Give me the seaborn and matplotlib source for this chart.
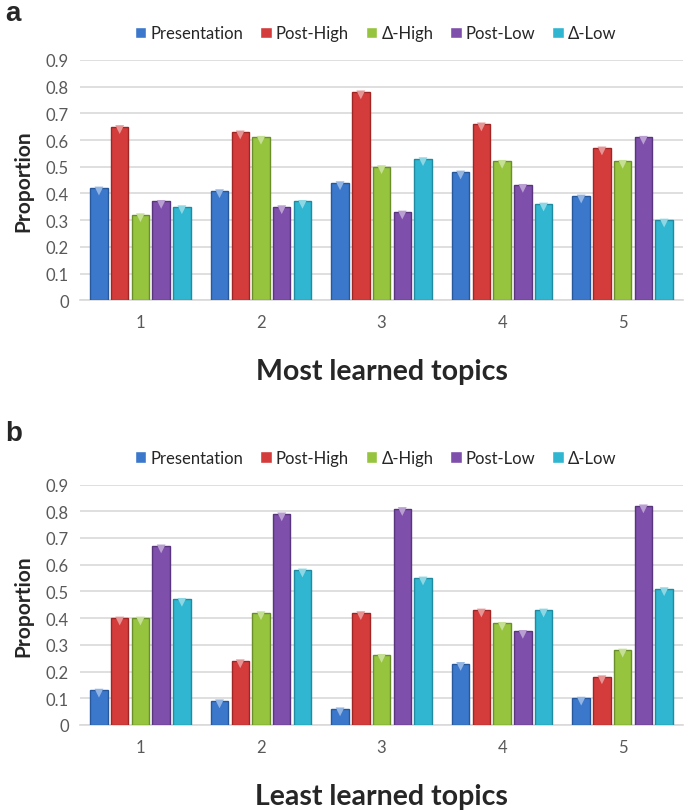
"""grouped bar charts: most / least learned topics"""

import pandas as pd
import matplotlib
matplotlib.use("Agg")
import matplotlib.pyplot as plt
import matplotlib.colors as mcolors
import seaborn as sns

topics = ["1", "2", "3", "4", "5"]
series = ["Presentation", "Post-High", "Δ-High", "Post-Low", "Δ-Low"]

# most learned topics (panel a)
most_presentation = [0.42, 0.41, 0.44, 0.48, 0.39]
most_post_high = [0.65, 0.63, 0.78, 0.66, 0.57]
most_delta_high = [0.32, 0.61, 0.50, 0.52, 0.52]
most_post_low = [0.37, 0.35, 0.33, 0.43, 0.61]
most_delta_low = [0.35, 0.37, 0.53, 0.36, 0.30]

# least learned topics (panel b)
least_presentation = [0.13, 0.09, 0.06, 0.23, 0.10]
least_post_high = [0.40, 0.24, 0.42, 0.43, 0.18]
least_delta_high = [0.40, 0.42, 0.26, 0.38, 0.28]
least_post_low = [0.67, 0.79, 0.81, 0.35, 0.82]
least_delta_low = [0.47, 0.58, 0.55, 0.43, 0.51]

colours = ["#3b78cc", "#d43c3c", "#96c43e", "#7e4fab", "#30b6d0"]
edges = ["#28589c", "#a02626", "#6a8f2a", "#58357c", "#1f8aa0"]


def long_table(values):
    rows = []
    for name, vals in zip(series, values):
        for t, v in zip(topics, vals):
            rows.append({"topic": t, "series": name, "value": v})
    return pd.DataFrame(rows)


def lighter(c, f=0.45):
    r, g, b = mcolors.to_rgb(c)
    return (r + (1 - r) * f, g + (1 - g) * f, b + (1 - b) * f)


def draw_panel(fig, rect, df, xlabel, letter, letter_y):
    ax = fig.add_axes(rect)
    sns.barplot(data=df, x="topic", y="value", hue="series", hue_order=series,
                palette=colours, saturation=1, width=0.86, gap=0.16, ax=ax,
                zorder=3, linewidth=1.0, legend=True)
    xlim = ax.get_xlim()
    # darker outline and a light bevel at the top of each bar
    for cont, ec, fc in zip(ax.containers, edges, colours):
        for bar in cont:
            bar.set_edgecolor(ec)
            xc = bar.get_x() + bar.get_width() / 2
            ax.scatter(xc, bar.get_height() - 0.011, marker="v", s=40,
                       color=lighter(fc), edgecolor="none", zorder=4)
    ax.set_xlim(xlim)

    ax.set_ylim(0, 0.9)
    ax.set_yticks([i / 10 for i in range(10)])
    ax.set_yticklabels(["0"] + ["0." + str(i) for i in range(1, 10)])
    ax.yaxis.grid(True, color="#d9d9d9", linewidth=1.2, zorder=0)
    ax.xaxis.grid(False)
    for s in ["left", "right", "top"]:
        ax.spines[s].set_visible(False)
    ax.spines["bottom"].set_color("#d9d9d9")
    ax.spines["bottom"].set_linewidth(1.2)
    ax.tick_params(axis="both", length=0, colors="#595959", labelsize=12)
    ax.tick_params(axis="y", pad=8)
    ax.tick_params(axis="x", pad=10)
    ax.set_ylabel("Proportion", fontsize=15, fontweight="bold", labelpad=9)
    ax.set_xlabel(xlabel, fontsize=20.5, fontweight="bold", labelpad=20)

    handles, labels = ax.get_legend_handles_labels()
    ax.legend(handles, labels, loc="lower center", bbox_to_anchor=(0.49, 1.015),
              ncol=5, frameon=False, fontsize=12, handlelength=0.7,
              handleheight=0.7, handletextpad=0.25, columnspacing=1.0)

    fig.text(0.008, letter_y, letter, fontsize=20, fontweight="bold",
             family="Liberation Sans", va="top")
    return ax


sns.set_theme(style="white")
plt.rcParams["font.family"] = ["Lato", "DejaVu Sans"]

fig = plt.figure(figsize=(6.85, 8.12), dpi=100)

draw_panel(fig, [0.117, 0.629, 0.88, 0.296],
           long_table([most_presentation, most_post_high, most_delta_high,
                       most_post_low, most_delta_low]),
           "Most learned topics", "a", 0.999)
draw_panel(fig, [0.117, 0.106, 0.88, 0.296],
           long_table([least_presentation, least_post_high, least_delta_high,
                       least_post_low, least_delta_low]),
           "Least learned topics", "b", 0.482)

plt.savefig("out.png", dpi=100)
plt.close()
